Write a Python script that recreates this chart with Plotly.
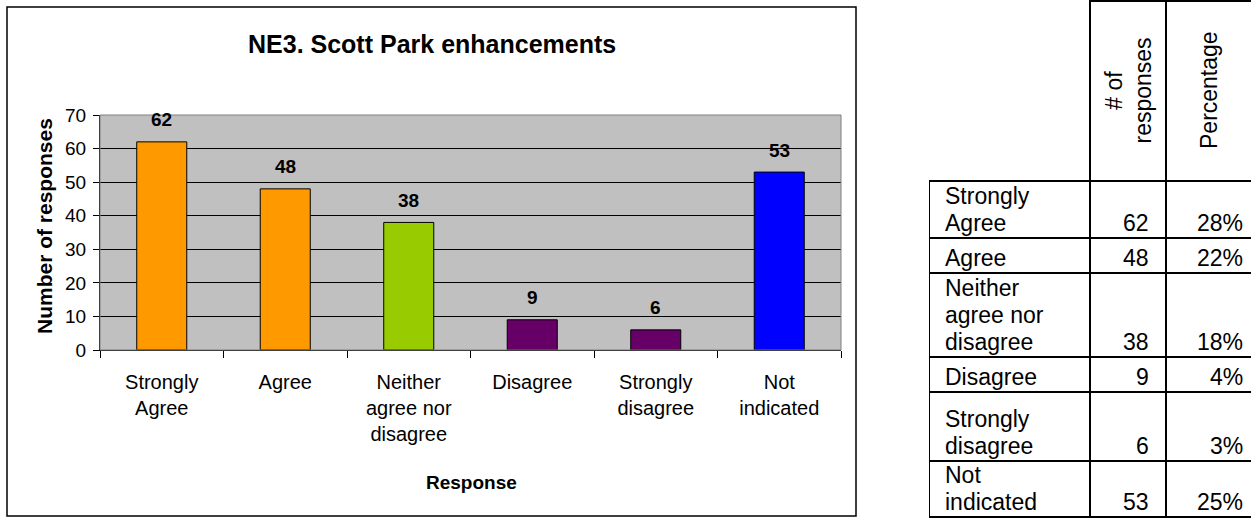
import plotly.graph_objects as go

# ---------------- data ----------------
categories = ["Strongly Agree", "Agree", "Neither agree nor disagree",
              "Disagree", "Strongly disagree", "Not indicated"]
axis_labels = ["Strongly<br>Agree", "Agree", "Neither<br>agree nor<br>disagree",
               "Disagree", "Strongly<br>disagree", "Not<br>indicated"]
responses = [62, 48, 38, 9, 6, 53]
percentages = ["28%", "22%", "18%", "4%", "3%", "25%"]
table_labels = [["Strongly", "Agree"], ["Agree"], ["Neither", "agree nor", "disagree"],
                ["Disagree"], ["Strongly", "disagree"], ["Not", "indicated"]]
table_headers = ["# of<br>responses", "Percentage"]
y_ticks = [0, 10, 20, 30, 40, 50, 60, 70]
title_text = "NE3. Scott Park enhancements"
x_title = "Response"
y_title = "Number of responses"

# ---------------- style ----------------
bar_colors = ["#FF9900", "#FF9900", "#99CC00", "#660066", "#660066", "#0000FF"]
FONT = "Liberation Sans, Arial, sans-serif"
W, H = 1251, 518
col_widths = [161, 76, 85]
header_height = 181
row_heights = [57, 35, 84, 35, 69, 56]
line_step = 27


def px(x):
    return x / W


def py(y):
    return 1 - y / H


fig = go.Figure()
fig.add_trace(go.Bar(
    x=categories, y=responses,
    marker=dict(color=bar_colors, line=dict(color="black", width=1)),
    hoverinfo="x+y", showlegend=False,
))

annotations = []
shapes = []

shapes.append(dict(type="rect", xref="x domain", yref="y domain",
                   x0=0, x1=1, y0=0, y1=1, fillcolor="#C0C0C0",
                   line=dict(width=0), layer="below"))
shapes.append(dict(type="rect", xref="x domain", yref="y domain",
                   x0=0, x1=1, y0=0, y1=1, line=dict(color="#808080", width=1)))

for c, v in zip(categories, responses):
    annotations.append(dict(x=c, y=v, xref="x", yref="y", text="<b>%d</b>" % v,
                            showarrow=False, yanchor="middle", yshift=22,
                            font=dict(size=19, color="black", family=FONT)))

annotations.append(dict(x=px(432), y=py(44), xref="paper", yref="paper",
                        text="<b>%s</b>" % title_text, showarrow=False,
                        xanchor="center", yanchor="middle",
                        font=dict(size=25, color="black", family=FONT)))
annotations.append(dict(x=px(44), y=py(226), xref="paper", yref="paper",
                        text="<b>%s</b>" % y_title, showarrow=False, textangle=-90,
                        xanchor="center", yanchor="middle",
                        font=dict(size=21, color="black", family=FONT)))
annotations.append(dict(x=px(471), y=py(482), xref="paper", yref="paper",
                        text="<b>%s</b>" % x_title, showarrow=False,
                        xanchor="center", yanchor="middle",
                        font=dict(size=19, color="black", family=FONT)))

shapes.append(dict(type="rect", xref="paper", yref="paper",
                   x0=px(7), x1=px(856), y0=py(516), y1=py(7),
                   line=dict(color="black", width=1.5)))

col_edges = [0]
for w in col_widths:
    col_edges.append(col_edges[-1] + w)
row_edges = [header_height]
for h in row_heights:
    row_edges.append(row_edges[-1] + h)

tl = dict(color="black", width=2)
shapes.append(dict(type="line", xref="x2", yref="y2", x0=col_edges[1], x1=col_edges[3],
                   y0=1, y1=1, line=tl))
for xe in (col_edges[1], col_edges[2]):
    shapes.append(dict(type="line", xref="x2", yref="y2", x0=xe, x1=xe,
                       y0=0, y1=row_edges[-1], line=tl))
shapes.append(dict(type="line", xref="x2", yref="y2", x0=col_edges[0], x1=col_edges[0],
                   y0=row_edges[0], y1=row_edges[-1], line=tl))
for ye in row_edges:
    shapes.append(dict(type="line", xref="x2", yref="y2", x0=col_edges[0], x1=col_edges[3],
                       y0=ye, y1=ye, line=tl))

tf = dict(size=23, color="black", family=FONT)
for i, htxt in enumerate(table_headers):
    annotations.append(dict(x=(col_edges[i + 1] + col_edges[i + 2]) / 2, y=header_height / 2,
                            xref="x2", yref="y2", text=htxt, showarrow=False,
                            textangle=-90, xanchor="center", yanchor="middle", font=tf))
for r in range(len(categories)):
    bottom = row_edges[r + 1]
    lines = table_labels[r]
    for k, ln in enumerate(reversed(lines)):
        annotations.append(dict(x=col_edges[0] + 14, y=bottom - k * line_step,
                                xref="x2", yref="y2", text=ln, showarrow=False,
                                xanchor="left", yanchor="bottom", font=tf))
    annotations.append(dict(x=col_edges[2] - 15, y=bottom, xref="x2", yref="y2",
                            text=str(responses[r]), showarrow=False,
                            xanchor="right", yanchor="bottom", font=tf))
    annotations.append(dict(x=col_edges[3] - 6, y=bottom, xref="x2", yref="y2",
                            text=percentages[r], showarrow=False,
                            xanchor="right", yanchor="bottom", font=tf))

fig.update_layout(
    template="none",
    width=W, height=H, autosize=False,
    margin=dict(l=0, r=0, t=0, b=0, pad=0, autoexpand=False),
    paper_bgcolor="white",
    plot_bgcolor="white",
    bargap=0.595,
    showlegend=False,
    font=dict(family=FONT, color="black"),
    xaxis=dict(domain=[px(100), px(841)], type="category", range=[-0.5, 5.5],
               tickmode="array", tickvals=categories, ticktext=axis_labels,
               tickson="boundaries", ticks="outside", ticklen=7, tickcolor="black",
               tickwidth=1, showline=True, linecolor="black", linewidth=1,
               showgrid=False, zeroline=False, automargin=False, ticklabelstandoff=14,
               tickfont=dict(size=20, color="black", family=FONT), fixedrange=True,
               anchor="y"),
    yaxis=dict(domain=[py(350), py(115)], range=[0, 70], tickvals=y_ticks,
               ticks="outside", ticklen=6, tickcolor="black", tickwidth=1,
               showline=True, linecolor="black", linewidth=1, automargin=False,
               showgrid=True, gridcolor="black", gridwidth=1, zeroline=False,
               ticklabelstandoff=3,
               tickfont=dict(size=19, color="black", family=FONT), fixedrange=True,
               anchor="x"),
    xaxis2=dict(domain=[px(929), 1], range=[0, sum(col_widths)], visible=False,
                automargin=False, fixedrange=True, anchor="y2"),
    yaxis2=dict(domain=[0, 1], range=[H, 0], visible=False, automargin=False,
                fixedrange=True, anchor="x2"),
    annotations=annotations,
    shapes=shapes,
)

fig.write_html("out.html", config={"displayModeBar": False},
               post_script="document.body.style.margin='0';")
